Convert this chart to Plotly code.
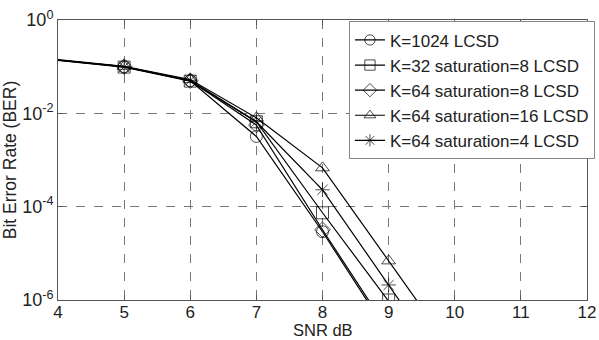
import plotly.graph_objects as go

snr = [4, 5, 6, 7, 8, 9, 10]
ber_k1024 = [0.139, 0.100, 0.050, 3.2e-3, 2.9e-5, 1.9e-7, 1.2e-9]
ber_k32_s8 = [0.137, 0.098, 0.049, 6.6e-3, 7.4e-5, 1.0e-6, 1.2e-8]
ber_k64_s8 = [0.139, 0.100, 0.050, 5.6e-3, 3.2e-5, 2.2e-7, 1.5e-9]
ber_k64_s16 = [0.141, 0.102, 0.053, 8.0e-3, 6.8e-4, 6.9e-6, 7.0e-8]
ber_k64_s4 = [0.138, 0.099, 0.051, 6.6e-3, 2.3e-4, 2.1e-6, 1.9e-8]

names = ["K=1024 LCSD", "K=32 saturation=8 LCSD", "K=64 saturation=8 LCSD",
         "K=64 saturation=16 LCSD", "K=64 saturation=4 LCSD"]
series = [ber_k1024, ber_k32_s8, ber_k64_s8, ber_k64_s16, ber_k64_s4]
symbols = ["circle-open", "square-open", "diamond-open", "triangle-up-open", "asterisk-open"]

fig = go.Figure()
for name, ys, sym in zip(names, series, symbols):
    sizes = [0 if x == 4 else 12 for x in snr]
    fig.add_trace(go.Scatter(
        x=snr, y=ys, name=name, mode="lines+markers",
        line=dict(color="black", width=1.2),
        marker=dict(symbol=sym, size=sizes, color="black",
                    line=dict(color="black", width=1)),
    ))

font = "Liberation Sans, Arial, Helvetica, sans-serif"
fig.update_layout(
    width=599, height=340,
    margin=dict(l=58, r=12, t=20, b=40, autoexpand=False),
    plot_bgcolor="white", paper_bgcolor="white",
    font=dict(family=font, size=16, color="#222"),
    showlegend=True,
    legend=dict(x=0.55, y=0.995, xanchor="left", yanchor="top",
                bgcolor="white", bordercolor="#888", borderwidth=1,
                font=dict(size=17, family=font), itemwidth=30,
                tracegroupgap=0),
    xaxis=dict(range=[4, 12], dtick=1, tick0=4, automargin=False,
               showgrid=True, gridcolor="#777", griddash="dash", gridwidth=1,
               showline=True, linecolor="#555", linewidth=1, mirror="ticks",
               ticks="inside", ticklen=5, tickcolor="#555",
               ticklabelstandoff=-3,
               zeroline=False,
               tickfont=dict(size=17)),
    yaxis=dict(type="log", range=[-6, 0], automargin=False,
               tickvals=[1, 1e-2, 1e-4, 1e-6],
               ticktext=["10<sup>0</sup>", "10<sup>-2</sup>", "10<sup>-4</sup>", "10<sup>-6</sup>"],
               showgrid=True, gridcolor="#777", griddash="dash", gridwidth=1,
               showline=True, linecolor="#555", linewidth=1, mirror="ticks",
               ticks="inside", ticklen=5, tickcolor="#555",
               zeroline=False,
               title=dict(text="Bit Error Rate (BER)", font=dict(size=17.5), standoff=1),
               tickfont=dict(size=18)),
    annotations=[dict(text="SNR dB", xref="paper", yref="paper", x=0.5, y=0,
                      xanchor="center", yanchor="top", yshift=-19,
                      showarrow=False, font=dict(size=16.5, family=font, color="#222"))],
)

fig.write_html("out.html")
